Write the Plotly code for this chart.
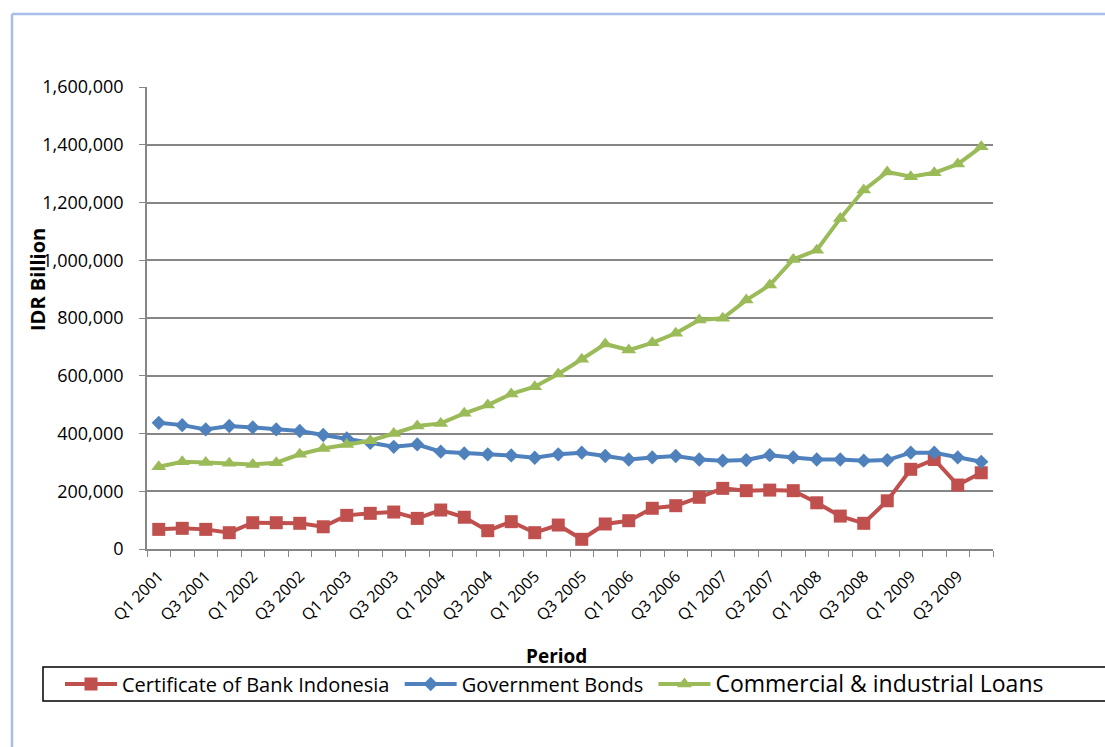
import plotly.graph_objects as go

quarters = [f"Q{q} {y}" for y in range(2001, 2010) for q in range(1, 5)]

cbi = [68000, 71600, 68000, 56500, 91000, 91000, 89000, 77000, 116500, 123500,
       128000, 106000, 135000, 110000, 63400, 94600, 56500, 83000, 33600, 86600,
       98000, 141000, 150000, 179000, 210000, 202000, 204000, 202000, 160000, 114000,
       89000, 167000, 276000, 310000, 221600, 264000]

gov_bonds = [437000, 429000, 414000, 426000, 421000, 414000, 408600, 394800, 383000, 368000,
             354000, 362000, 337000, 331000, 328000, 324000, 316000, 328000, 333600, 322000,
             310000, 317000, 322000, 310000, 305800, 308000, 325000, 317000, 310000, 310000,
             305800, 308000, 333600, 333600, 317000, 302000]

ci_loans = [285000, 302000, 300000, 297000, 293000, 299000, 328000, 348000, 362000, 375000,
            400000, 426000, 435000, 470000, 498600, 537000, 562000, 606000, 657000, 710000,
            689000, 714000, 747000, 793000, 799000, 862000, 914000, 1003000, 1035000, 1145000,
            1243000, 1306000, 1289000, 1303000, 1333000, 1393000]

series_names = ["Certificate of Bank Indonesia&nbsp;", "Government Bonds&nbsp;",
                '<span style="font-size:23px">Commercial &amp; industrial Loans</span>']

FONT = "Open Sans, Lato, sans-serif"

fig = go.Figure()
fig.add_trace(go.Scatter(x=quarters, y=cbi, name=series_names[0], mode="lines+markers",
                         line=dict(color="#C0504D", width=4),
                         marker=dict(symbol="square", size=13, color="#C0504D")))
fig.add_trace(go.Scatter(x=quarters, y=gov_bonds, name=series_names[1], mode="lines+markers",
                         line=dict(color="#4F81BD", width=4),
                         marker=dict(symbol="diamond", size=11, color="#4F81BD")))
fig.add_trace(go.Scatter(x=quarters, y=ci_loans, name=series_names[2], mode="lines+markers",
                         line=dict(color="#9BBB59", width=4),
                         marker=dict(symbol="triangle-up", size=13, color="#9BBB59")))

W, H = 1105, 747
L, R, T, B = 147, 993, 87, 549


def px(x):
    return (x - L) / (R - L)


def py(y):
    return (B - y) / (B - T)


fig.update_layout(
    width=W, height=H,
    margin=dict(l=L, r=W - R, t=T, b=H - B),
    paper_bgcolor="white", plot_bgcolor="white",
    font=dict(family=FONT, color="black", size=15),
    showlegend=True,
    legend=dict(orientation="h", x=px(60), xanchor="left", y=py(684), yanchor="middle",
                font=dict(size=20, family=FONT), bgcolor="rgba(0,0,0,0)",
                itemwidth=52, tracegroupgap=0),
    xaxis=dict(type="category", tickson="boundaries", dtick=1, ticklabelstep=2,
               tickangle=-45, ticks="outside", ticklen=6, tickcolor="#868686",
               showline=True, linecolor="#868686", linewidth=1.5, showgrid=False,
               ticklabelstandoff=10,
               tickfont=dict(size=16, family=FONT), range=[-0.5, 35.5]),
    yaxis=dict(range=[0, 1600000], dtick=200000, tickformat=",", ticks="outside",
               ticklen=6, tickcolor="#868686", showline=True, linecolor="#868686",
               linewidth=1.5, gridcolor="#868686", gridwidth=1.5, zeroline=False,
               ticklabelstandoff=12,
               tickfont=dict(size=18, family=FONT)),
    shapes=[
        dict(type="rect", xref="paper", yref="paper", x0=px(43), x1=px(1115),
             y0=py(701), y1=py(667), line=dict(color="black", width=1.5)),
        dict(type="line", xref="paper", yref="paper", x0=px(12), x1=px(1110),
             y0=py(14), y1=py(14), line=dict(color="#A5BFE8", width=2.5)),
        dict(type="line", xref="paper", yref="paper", x0=px(12), x1=px(12),
             y0=py(14), y1=py(760), line=dict(color="#A5BFE8", width=2.5)),
    ],
    annotations=[
        dict(text="<b>IDR Billion</b>", xref="paper", yref="paper", x=px(37), y=py(280),
             xanchor="center", yanchor="middle", textangle=-90, showarrow=False,
             font=dict(size=20, family=FONT)),
        dict(text="<b>Period</b>", xref="paper", yref="paper", x=px(556), y=py(656),
             xanchor="center", yanchor="middle", showarrow=False,
             font=dict(size=19, family=FONT)),
    ],
)

fig.write_html("out.html")
